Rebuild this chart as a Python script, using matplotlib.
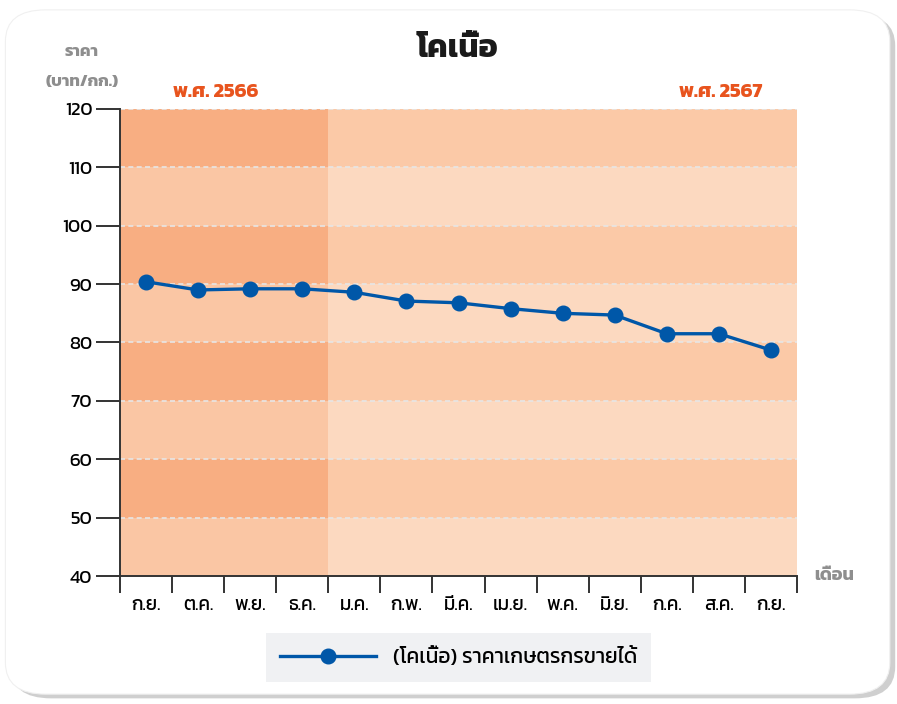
import matplotlib
matplotlib.use('Agg')
import matplotlib.pyplot as plt
from matplotlib import font_manager
from matplotlib.ft2font import FT2Font
from matplotlib.patches import FancyBboxPatch

# หาแบบอักษรที่มีอักษรไทย (เลือกตระกูลที่มีตัวหนาก่อน)
thai = {}
for f in font_manager.fontManager.ttflist:
    try:
        if 0x0E04 in FT2Font(f.fname).get_charmap():
            w = f.weight if isinstance(f.weight, int) else 400
            thai.setdefault(f.name, set()).add(w)
    except Exception:
        pass
names = sorted(thai, key=lambda n: (-max(thai[n]), n))
plt.rcParams['font.family'] = names[:1] + ['DejaVu Sans']
plt.rcParams['axes.unicode_minus'] = False

# ข้อมูล
months = ['ก.ย.', 'ต.ค.', 'พ.ย.', 'ธ.ค.', 'ม.ค.', 'ก.พ.', 'มี.ค.',
          'เม.ย.', 'พ.ค.', 'มิ.ย.', 'ก.ค.', 'ส.ค.', 'ก.ย.']
prices = [90.4, 89.0, 89.2, 89.2, 88.6, 87.1, 86.8, 85.8, 85.0, 84.7, 81.5, 81.5, 78.7]
yticks = [40, 50, 60, 70, 80, 90, 100, 110, 120]
n_2566 = 4

fig = plt.figure(figsize=(8.97, 7.04), dpi=100)
fig.patch.set_facecolor('white')

# การ์ดพื้นหลัง
shadow = FancyBboxPatch((0.012, 0.008), 0.986, 0.972, boxstyle='round,pad=0,rounding_size=0.045',
                        transform=fig.transFigure, facecolor='#cfcfcf', edgecolor='none', zorder=-2)
card = FancyBboxPatch((0.006, 0.014), 0.986, 0.972, boxstyle='round,pad=0,rounding_size=0.045',
                      transform=fig.transFigure, facecolor='white', edgecolor='#f0f0f0', lw=0.8, zorder=-1)
fig.patches.extend([shadow, card])

ax = fig.add_axes([0.1338, 0.1818, 0.7547, 0.6634])
ax.set_facecolor('none')
x = list(range(len(months)))
ax.set_xlim(-0.5, len(months) - 0.5)
ax.set_ylim(40, 120)

# แถบสีพื้นหลัง
split = n_2566 - 0.5
for i in range(len(yticks) - 1):
    lo, hi = yticks[i], yticks[i + 1]
    dark = i % 2 == 1
    ax.fill_between([-0.5, split], lo, hi, color='#f8ae82' if dark else '#fac6a4', lw=0, zorder=0)
    ax.fill_between([split, len(months) - 0.5], lo, hi, color='#fbc9a7' if dark else '#fcd9c0', lw=0, zorder=0)

for yv in yticks[1:]:
    ax.axhline(yv, color='#e6e6e6', lw=1.2, ls=(0, (3, 2)), zorder=1)

ax.plot(x, prices, color='#0057a8', lw=2.4, marker='o', markersize=10.5, zorder=3,
        label='(โคเนื้อ) ราคาเกษตรกรขายได้')

# แกน
for s in ['top', 'right']:
    ax.spines[s].set_visible(False)
for s in ['left', 'bottom']:
    ax.spines[s].set_color('#333333')
    ax.spines[s].set_linewidth(1.4)
ax.set_yticks(yticks)
ax.tick_params(axis='y', length=17, width=1.4, color='#333333', labelsize=13.5, pad=3)
ax.set_xticks(x)
ax.set_xticklabels(months, fontsize=13.5)
ax.tick_params(axis='x', which='major', length=0, pad=15)
ax.set_xticks([i - 0.5 for i in range(len(months) + 1)], minor=True)
ax.tick_params(axis='x', which='minor', length=12, width=1.4, color='#333333')

# ข้อความ
fig.text(0.51, 0.93, 'โคเนื้อ', ha='center', va='center', fontsize=23, fontweight='bold', color='#1a1a1a')
fig.text(0.0915, 0.926, 'ราคา', ha='center', va='center', fontsize=12, fontweight='bold', color='#8e8e8e')
fig.text(0.0915, 0.883, '(บาท/กก.)', ha='center', va='center', fontsize=12, fontweight='bold', color='#8e8e8e')
fig.text(0.24, 0.869, 'พ.ศ. 2566', ha='center', va='center', fontsize=14.5, fontweight='bold', color='#e8541e')
fig.text(0.803, 0.869, 'พ.ศ. 2567', ha='center', va='center', fontsize=14.5, fontweight='bold', color='#e8541e')
fig.text(0.93, 0.182, 'เดือน', ha='center', va='center', fontsize=13, fontweight='bold', color='#8e8e8e')

leg = ax.legend(loc='upper center', bbox_to_anchor=(0.5, -0.122), frameon=True, fontsize=15,
                handlelength=4.6, handletextpad=0.8, borderpad=0.7, borderaxespad=0,
                fancybox=False)
leg.get_frame().set_facecolor('#f0f1f3')
leg.get_frame().set_edgecolor('none')
leg.get_frame().set_alpha(1)

fig.savefig('out.png', dpi=100, facecolor=fig.get_facecolor())
